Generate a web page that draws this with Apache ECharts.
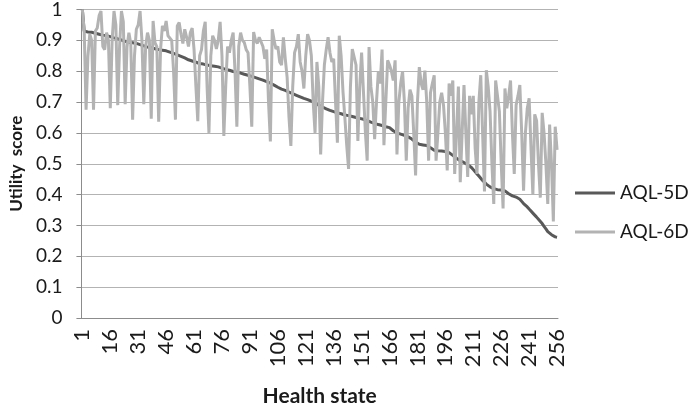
<!DOCTYPE html>
<html>
<head>
<meta charset="utf-8">
<script src="https://cdn.jsdelivr.net/npm/echarts@6/dist/echarts.min.js"></script>
<style>
html,body{margin:0;padding:0;background:#fff;}
#chart{width:688px;height:412px;}
</style>
</head>
<body>
<div id="chart"></div>
<script>
var seriesNames = ['AQL-5D', 'AQL-6D'];
var yTickLabels = ['0','0.1','0.2','0.3','0.4','0.5','0.6','0.7','0.8','0.9','1'];
var categories = [];
for (var k = 1; k <= 256; k++) categories.push(String(k));

var aql5d = [
1.0,0.93,0.928,0.927,0.926,0.926,0.925,0.923,0.922,0.92,0.919,0.917,0.916,0.915,0.913,0.912,
0.91,0.908,0.906,0.905,0.903,0.901,0.899,0.897,0.896,0.894,0.893,0.892,0.891,0.89,0.888,0.886,
0.884,0.882,0.88,0.878,0.877,0.876,0.874,0.873,0.871,0.87,0.869,0.868,0.867,0.866,0.864,0.862,
0.86,0.858,0.856,0.853,0.85,0.848,0.846,0.843,0.84,0.837,0.835,0.833,0.831,0.829,0.826,
0.825,0.824,0.823,0.822,0.82,0.819,0.818,0.817,0.816,0.815,0.814,0.812,0.81,0.808,0.806,0.805,
0.803,0.801,0.799,0.798,0.797,0.795,0.794,0.792,0.79,0.789,0.787,0.785,0.783,0.781,0.779,0.777,
0.775,0.773,0.771,0.769,0.766,0.763,0.761,0.759,0.755,0.752,0.748,0.744,0.742,0.74,0.738,0.735,
0.732,0.729,0.727,0.725,0.722,0.72,0.717,0.714,0.712,0.71,0.708,0.706,0.703,0.7,0.697,0.694,
0.69,0.687,0.684,0.681,0.678,0.675,0.673,0.671,0.669,0.667,0.665,0.663,0.662,0.66,0.658,0.657,
0.656,0.655,0.653,0.652,0.65,0.649,0.647,0.645,0.644,0.643,0.64,0.638,0.635,0.633,0.631,0.629,
0.627,0.626,0.624,0.622,0.62,0.618,0.617,0.612,0.607,0.602,0.6,0.598,0.596,0.594,0.592,0.59,
0.587,0.585,0.58,0.574,0.57,0.566,0.563,0.562,0.561,0.56,0.559,0.558,0.552,0.548,0.544,
0.543,0.542,0.542,0.541,0.541,0.54,0.54,0.536,0.531,0.527,0.523,0.518,0.514,0.51,0.507,0.504,
0.5,0.497,0.494,0.488,0.481,0.474,0.467,0.46,0.453,0.446,0.44,0.434,0.428,0.425,0.422,0.419,
0.417,0.416,0.415,0.415,0.414,0.412,0.408,0.403,0.398,0.396,0.394,0.392,0.39,0.385,0.378,0.371,
0.366,0.36,0.353,0.347,0.34,0.334,0.327,0.32,0.315,0.306,0.297,0.289,0.28,0.274,0.27,0.265,
0.263,0.262
];

var aql6d = [
1.0,0.93,0.675,0.85,0.92,0.9,0.675,0.93,0.94,0.98,0.995,0.88,0.87,0.925,0.9,0.68,
0.9,0.995,0.95,0.69,0.88,0.995,0.96,0.693,0.88,0.925,0.89,0.643,0.85,0.936,0.95,0.995,
0.9,0.693,0.88,0.925,0.9,0.646,0.963,0.893,0.88,0.636,0.87,0.947,0.93,0.963,0.915,0.915,
0.9,0.8,0.643,0.947,
0.958,0.92,0.89,0.936,0.91,0.88,0.925,
0.94,0.87,0.75,0.638,0.85,0.87,0.93,0.96,0.75,0.60,0.85,0.915,0.9,0.872,0.9,0.96,
0.85,0.59,0.75,0.88,0.86,0.9,0.925,0.8,0.62,0.88,0.925,0.9,0.893,0.87,0.86,0.75,
0.62,0.927,0.9,0.89,0.91,0.91,0.88,0.84,0.87,0.7,0.572,
0.936,0.9,0.872,0.88,0.83,0.82,0.91,0.84,0.78,0.65,0.558,0.75,0.86,0.88,0.92,0.83,
0.8,0.744,0.85,0.92,0.9,0.85,0.7,0.60,0.83,0.75,0.53,0.7,0.82,0.87,0.91,0.86,
0.83,0.84,0.7,0.568,0.915,0.85,0.734,0.65,0.56,0.483,0.75,0.872,0.877,0.82,0.574,0.75,
0.86,0.86,0.606,
0.51,0.878,0.75,0.7,0.58,0.7,0.8,0.76,0.87,0.56,0.7,0.835,0.82,0.8,0.77,0.835,
0.53,0.7,0.76,0.8,0.7,0.51,0.68,0.74,0.72,0.6,0.462,0.7,0.813,0.76,0.74,0.802,
0.7,0.51,
0.73,0.76,0.787,0.51,0.6,0.7,0.73,0.69,0.6,0.478,0.76,0.72,0.77,0.467,0.6,0.75,0.44,
0.6,0.755,0.6,0.457,0.72,0.66,0.72,0.55,0.467,0.7,0.787,0.6,0.41,0.803,0.75,0.67,
0.5,0.37,0.77,0.72,0.67,0.5,0.355,0.744,0.68,0.72,0.77,0.6,0.467,0.69,0.72,0.755,
0.6,0.413,0.6,0.68,0.712,0.55,0.40,0.66,0.64,0.5,0.39,0.665,0.6,0.5,0.37,0.627,
0.5,0.313,0.62,0.545
];

var FONT = 'Lato, "Open Sans", sans-serif';
var chart = echarts.init(document.getElementById('chart'), null, {renderer: 'canvas'});
chart.setOption({
  animation: false,
  backgroundColor: '#ffffff',
  grid: {left: 78, right: 130, top: 9, bottom: 91, containLabel: false},
  legend: {
    data: seriesNames,
    orient: 'vertical',
    left: 575,
    top: 183,
    padding: 0,
    icon: 'rect',
    itemWidth: 40,
    itemHeight: 3,
    itemGap: 19,
    textStyle: {fontFamily: FONT, fontSize: 19, color: '#1a1a1a', lineHeight: 20}
  },
  xAxis: {
    type: 'category',
    data: categories,
    boundaryGap: true,
    name: 'Health state',
    nameLocation: 'middle',
    nameGap: 68,
    nameTextStyle: {fontFamily: FONT, fontSize: 21, fontWeight: 'bold', color: '#1a1a1a'},
    axisLine: {show: true, lineStyle: {color: '#8c8c8c', width: 1}},
    axisTick: {show: false},
    axisLabel: {interval: 14, rotate: 90, margin: 11, fontFamily: FONT, fontSize: 22, color: '#1a1a1a'},
    splitLine: {show: false}
  },
  yAxis: {
    type: 'value',
    min: 0,
    max: 1,
    interval: 0.1,
    name: 'Utility  score',
    nameLocation: 'middle',
    nameGap: 55,
    nameTextStyle: {fontFamily: FONT, fontSize: 17, fontWeight: 'bold', color: '#1a1a1a'},
    axisLine: {show: true, lineStyle: {color: '#8c8c8c', width: 1}},
    axisTick: {show: true, length: 5, lineStyle: {color: '#8c8c8c'}},
    axisLabel: {
      margin: 19, fontFamily: FONT, fontSize: 19, color: '#1a1a1a',
      formatter: function (v) { return yTickLabels[Math.round(v * 10)]; }
    },
    splitLine: {show: true, lineStyle: {color: '#b3b3b3', width: 1}}
  },
  series: [
    {
      name: seriesNames[0], type: 'line', data: aql5d, showSymbol: false, symbol: 'none',
      itemStyle: {color: '#595959'}, lineStyle: {color: '#595959', width: 3}, z: 2
    },
    {
      name: seriesNames[1], type: 'line', data: aql6d, showSymbol: false, symbol: 'none',
      itemStyle: {color: '#b3b3b3'}, lineStyle: {color: '#b3b3b3', width: 3}, z: 3
    }
  ]
});
</script>
</body>
</html>
